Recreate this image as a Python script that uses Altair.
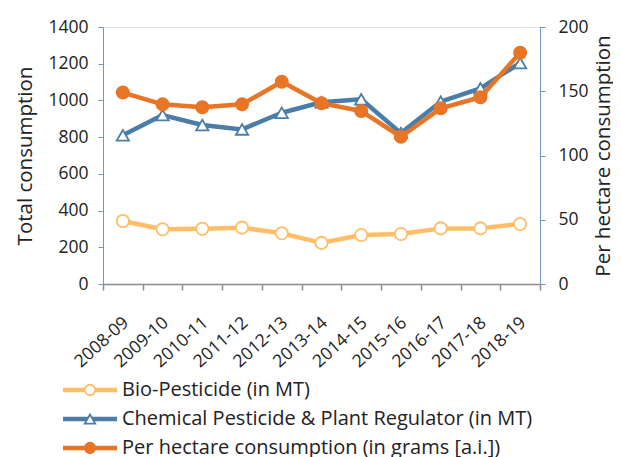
import altair as alt
import pandas as pd

periods = ["2008-09", "2009-10", "2010-11", "2011-12", "2012-13", "2013-14",
           "2014-15", "2015-16", "2016-17", "2017-18", "2018-19"]
bio = [343, 298, 301, 307, 276, 224, 267, 272, 303, 303, 327]
chem = [810, 920, 866, 842, 933, 990, 1006, 822, 993, 1066, 1204]
per_ha = [149, 139.8, 137.5, 139.8, 157.4, 140.6, 134.6, 114.6, 136.7, 145.3, 180]

series_names = ["Bio-Pesticide (in MT)",
                "Chemical Pesticide & Plant Regulator (in MT)",
                "Per hectare consumption (in grams [a.i.])"]
marker_keys = ["m1", "m2", "m3"]
colors = ["#FFBD66", "#4A7DA8", "#E87526"]
fills = ["#FFFFFF", "#FFFFFF", "#E87526"]
shapes = ["circle", "triangle-up", "circle"]
left_ticks = [0, 200, 400, 600, 800, 1000, 1200, 1400]
right_ticks = [0, 50, 100, 150, 200]

rows = []
for name, key, vals in zip(series_names[:2], marker_keys[:2], [bio, chem]):
    for p, v in zip(periods, vals):
        rows.append({"period": p, "series": name, "marker": key, "value": v})
mt_df = pd.DataFrame(rows)
ph_df = pd.DataFrame({"period": periods, "series": series_names[2],
                      "marker": marker_keys[2], "value": per_ha})

FONT = "Open Sans"
TXT = "#222222"
AXBLUE = "#6A98C4"
GRAY = "#8C8C8C"

x_enc = alt.X("period:N", sort=periods, bandPosition=0.5,
              scale=alt.Scale(type="band", domain=periods, paddingInner=0, paddingOuter=0),
              axis=alt.Axis(title=None, tickBand="extent", labelAngle=318,
                            labelAlign="right", labelBaseline="middle",
                            labelOffset=3, labelPadding=30, tickSize=6,
                            domainColor=GRAY, tickColor=GRAY, domainWidth=1.5, tickWidth=1.5,
                            labelFontSize=17.5, labelColor=TXT, grid=False))

y_left = alt.Y("value:Q", scale=alt.Scale(domain=[0, 1400], nice=False),
               axis=alt.Axis(title="Total consumption", values=left_ticks, orient="left",
                             format="d", grid=False, domainColor=AXBLUE, tickColor=AXBLUE,
                             tickSize=5, labelPadding=10, labelFontSize=17.5, labelColor=TXT,
                             titleFontSize=20.5, titleFontWeight="normal", titleColor=TXT,
                             titlePadding=12))
y_right = alt.Y("value:Q", scale=alt.Scale(domain=[0, 200], nice=False),
                axis=alt.Axis(title="Per hectare consumption", values=right_ticks, orient="right",
                              format="d", grid=False, domainColor=AXBLUE, tickColor=AXBLUE,
                              tickSize=5, labelPadding=13, labelFontSize=17.5, labelColor=TXT,
                              titleFontSize=20.5, titleFontWeight="normal", titleColor=TXT,
                              titleAngle=270, titleBaseline="top", titlePadding=5))

legend_a = alt.Legend(title=None, orient="none", legendX=-23, legendY=353, padding=0,
                      symbolType="M-6,0L6,0", symbolSize=81, symbolStrokeWidth=4.5,
                      labelFontSize=20, labelOffset=22, rowPadding=9,
                      labelColor=TXT, labelLimit=600)
legend_b = alt.Legend(title=None, orient="none", legendX=-23, legendY=353, padding=0,
                      symbolSize=110, symbolStrokeWidth=1.8, labelFontSize=20,
                      labelOffset=22, rowPadding=9, labelOpacity=0, labelLimit=600)

color_enc = alt.Color("series:N", scale=alt.Scale(domain=series_names, range=colors), legend=legend_a)
stroke_enc = alt.Stroke("marker:N", scale=alt.Scale(domain=marker_keys, range=colors), legend=legend_b)
fill_enc = alt.Fill("marker:N", scale=alt.Scale(domain=marker_keys, range=fills), legend=legend_b)
shape_enc = alt.Shape("marker:N", scale=alt.Scale(domain=marker_keys, range=shapes), legend=legend_b)

line_kw = dict(strokeWidth=4.5, strokeJoin="round", strokeCap="round")
pt_kw = dict(filled=True, size=150, strokeWidth=1.8, opacity=1)

line_mt = alt.Chart(mt_df).mark_line(**line_kw).encode(x=x_enc, y=y_left, color=color_enc)
pts_mt = alt.Chart(mt_df).mark_point(**pt_kw).encode(x=x_enc, y=y_left, stroke=stroke_enc,
                                                     fill=fill_enc, shape=shape_enc)
line_ph = alt.Chart(ph_df).mark_line(**line_kw).encode(x=x_enc, y=y_right, color=color_enc)
pts_ph = alt.Chart(ph_df).mark_point(**pt_kw).encode(x=x_enc, y=y_right, stroke=stroke_enc,
                                                     fill=fill_enc, shape=shape_enc)

left = alt.layer(line_mt, pts_mt)
right = alt.layer(line_ph, pts_ph)

chart = (alt.layer(left, right)
         .resolve_scale(y="independent")
         .properties(width=437, height=257,
                     padding={"left": 95, "top": 19, "right": 73, "bottom": 173},
                     autosize=alt.AutoSizeParams(type="none"))
         .configure_view(stroke=None)
         .configure(font=FONT))

chart.save("out.html", embed_options={"renderer": "svg", "actions": False})
